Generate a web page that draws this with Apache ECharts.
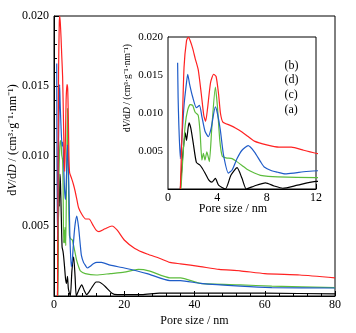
<!DOCTYPE html>
<html>
<head>
<meta charset="utf-8">
<script src="https://cdn.jsdelivr.net/npm/echarts@6/dist/echarts.min.js"></script>
<style>
html, body { margin: 0; background: #fff; }
#chart { width: 356px; height: 333px; }
</style>
</head>
<body>
<div id="chart"></div>
<script>
// pore size (nm) and dV/dD (cm3 g-1 nm-1)
const sizeB = [1.0, 1.15, 1.3, 1.5, 1.65, 1.8, 2.0, 2.2, 2.45, 2.7, 2.9, 3.05, 3.2, 3.45, 3.7, 3.9, 4.1, 4.25, 4.45, 5.0, 5.5, 6.0, 6.5, 7.0, 8.0, 9.0, 10.0, 11.0, 12.0, 12.8, 14.5, 16.5, 18, 20, 23, 26.5, 30, 33, 36, 41.7, 47, 53, 60, 70, 80];
const dvB = [0, 0.008, 0.016, 0.0195, 0.0200, 0.0195, 0.0185, 0.0172, 0.0157, 0.0125, 0.0097, 0.0089, 0.0105, 0.0140, 0.0151, 0.0148, 0.0125, 0.0100, 0.0088, 0.0084, 0.0080, 0.0075, 0.0069, 0.0063, 0.0058, 0.0055, 0.0055, 0.0051, 0.0047, 0.0046, 0.0048, 0.0050, 0.0047, 0.0040, 0.0034, 0.0030, 0.0027, 0.0024, 0.0023, 0.0021, 0.0019, 0.0018, 0.0016, 0.0015, 0.0013];

const sizeD = [0.78, 0.82, 0.88, 1.0, 1.1, 1.3, 1.5, 1.6, 1.75, 2.0, 2.3, 2.55, 2.75, 3.0, 3.27, 3.5, 3.84, 4.0, 4.24, 4.5, 4.9, 5.2, 5.6, 6.0, 6.5, 7.0, 7.5, 7.8, 8.4, 8.9, 9.5, 10.2, 11.2, 12.2, 13.5, 16, 20, 26.5, 33, 36, 41.7, 53, 62, 80];
const dvD = [0.0166, 0.0120, 0.0084, 0.0040, 0.0060, 0.0110, 0.0140, 0.0151, 0.0138, 0.0121, 0.0107, 0.0110, 0.0095, 0.0076, 0.0069, 0.0080, 0.0108, 0.0100, 0.0078, 0.0045, 0.0021, 0.0025, 0.0040, 0.0051, 0.0057, 0.0049, 0.0036, 0.0029, 0.0024, 0.0022, 0.0020, 0.0021, 0.0023, 0.0024, 0.0024, 0.0022, 0.0020, 0.0016, 0.0011, 0.0011, 0.0009, 0.0007, 0.0006, 0.00057];

const sizeC = [1.05, 1.2, 1.4, 1.6, 1.8, 2.0, 2.2, 2.45, 2.6, 2.75, 2.87, 3.0, 3.15, 3.35, 3.55, 3.84, 4.0, 4.2, 4.4, 4.7, 5.2, 5.5, 6.0, 6.4, 7.0, 7.5, 8.9, 12, 16, 20, 24, 27, 33, 36, 41.7, 53, 62, 80];
const dvC = [0, 0.004, 0.0085, 0.0104, 0.0111, 0.0110, 0.0101, 0.0097, 0.0075, 0.0038, 0.0047, 0.0038, 0.0049, 0.0036, 0.0080, 0.0134, 0.0110, 0.0064, 0.0043, 0.0041, 0.0040, 0.0037, 0.0031, 0.0026, 0.0021, 0.0018, 0.0016, 0.0015, 0.0016, 0.0017, 0.0019, 0.0018, 0.0013, 0.0013, 0.0009, 0.0008, 0.0007, 0.0006];

const sizeA = [1.0, 1.2, 1.4, 1.5, 1.7, 1.85, 2.05, 2.3, 2.55, 2.75, 3.0, 3.3, 3.55, 3.84, 4.1, 4.65, 5.1, 5.6, 6.0, 6.35, 7.0, 7.9, 8.6, 9.3, 10.5, 12, 12.8, 14.5, 16.5, 18, 20, 25, 30, 40, 60, 80];
const dvA = [0, 0.0045, 0.0074, 0.0064, 0.0087, 0.0080, 0.0060, 0.0035, 0.0032, 0.0028, 0.0021, 0.0012, 0.0009, 0.0014, 0.0005, 0.0, 0.0018, 0.0028, 0.0014, 0.0, 0.0004, 0.0008, 0.0004, 0.0001, 0.0005, 0.0010, 0.0010, 0.0007, 0.0002, 0.0001, 0.0001, 0.0001, 0.0002, 0.0002, 0.0002, 0.00015];

const curves = [
    { label: '(a)', x: sizeA, y: dvA, color: '#000000' },
    { label: '(c)', x: sizeC, y: dvC, color: '#5cbc3c' },
    { label: '(d)', x: sizeD, y: dvD, color: '#1f5cc8' },
    { label: '(b)', x: sizeB, y: dvB, color: '#ff2222' },
];
const legendOrder = ['(b)', '(d)', '(c)', '(a)'];

const mainXTicks = { min: 0, max: 80, interval: 20 };
const insetXTicks = { min: 0, max: 12, interval: 4 };
const yTicks = { min: 0, max: 0.02, interval: 0.005 };

const FONT = 'Liberation Serif';
const yName = 'd{i|V}/d{i|D} / (cm³·g⁻¹·nm⁻¹)';

const chart = echarts.init(document.getElementById('chart'), null, { renderer: 'canvas' });

function xAxis(grid, ticks, split, gap, pad) {
    return {
        type: 'value',
        gridIndex: grid,
        min: ticks.min, max: ticks.max, interval: ticks.interval,
        name: 'Pore size / nm',
        nameLocation: 'middle',
        nameGap: gap,
        nameMoveOverlap: false,
        nameTextStyle: { fontFamily: FONT, fontSize: 12, color: '#000', padding: pad },
        axisLine: { lineStyle: { color: '#000', width: 1 } },
        axisTick: { inside: true, length: 5, lineStyle: { color: '#000' } },
        minorTick: { show: true, splitNumber: split, length: 3, lineStyle: { color: '#000' } },
        axisLabel: { fontFamily: FONT, fontSize: 12, color: '#000', margin: 3 },
        splitLine: { show: false },
    };
}

function yAxis(grid, gap, pad, nameSize, labelSize) {
    return {
        type: 'value',
        gridIndex: grid,
        min: yTicks.min, max: yTicks.max, interval: yTicks.interval,
        name: yName,
        nameLocation: 'middle',
        nameGap: gap,
        nameRotate: 90,
        nameMoveOverlap: false,
        nameTextStyle: {
            fontFamily: FONT, fontSize: nameSize, color: '#000', padding: pad,
            rich: { i: { fontFamily: FONT, fontSize: nameSize, fontStyle: 'italic', color: '#000' } }
        },
        axisLine: { lineStyle: { color: '#000', width: 1 } },
        axisTick: { inside: true, length: 5, lineStyle: { color: '#000' } },
        minorTick: { show: true, splitNumber: 5, length: 3, lineStyle: { color: '#000' } },
        axisLabel: {
            fontFamily: FONT, fontSize: labelSize, color: '#000', margin: 5,
            showMinLabel: false,
            formatter: (v) => v.toFixed(3),
        },
        splitLine: { show: false },
    };
}

const series = [];
[0, 1].forEach((g) => {
    curves.forEach((c) => {
        series.push({
            name: c.label,
            type: 'line',
            xAxisIndex: g,
            yAxisIndex: g,
            data: c.x.map((x, i) => [x, c.y[i]]),
            showSymbol: false,
            smooth: 0.2,
            clip: true,
            lineStyle: { color: c.color, width: 1.2 },
            itemStyle: { color: c.color },
            z: 2 + g * 10,
        });
    });
});

// arrow in the inset, drawn in data coordinates on the last inset series
series[series.length - 1].markLine = {
    silent: true,
    animation: false,
    symbol: ['none', 'arrow'],
    symbolSize: [6, 8],
    label: { show: false },
    lineStyle: { color: '#000', type: 'solid', width: 1 },
    data: [[{ coord: [8.8, 0.0101] }, { coord: [8.8, 0.0170] }]],
};

const option = {
    animation: false,
    backgroundColor: '#fff',
    grid: [
        { left: 54, top: 16, width: 281, height: 280, outerBoundsMode: 'none', show: true, borderColor: '#000', borderWidth: 1, backgroundColor: 'transparent', z: 0 },
        { left: 168, top: 37, width: 148, height: 152, outerBoundsMode: 'none', show: true, borderColor: '#000', borderWidth: 1, backgroundColor: '#fff', z: 10 },
    ],
    xAxis: [xAxis(0, mainXTicks, 5, 19, 0), xAxis(1, insetXTicks, 4, 14, [0, 18, 0, 0])],
    yAxis: [yAxis(0, 35, [0, 0, 0, 32], 12, 12), yAxis(1, 36, [0, 0, 0, 50], 9.5, 11)],
    series: series,
};

chart.setOption(option);

// legend labels beside the arrow
const labelX = 9.45;
const labelY = [0.0162, 0.0143, 0.0124, 0.0104];
chart.setOption({
    graphic: legendOrder.map((t, i) => {
        const p = chart.convertToPixel({ gridIndex: 1 }, [labelX, labelY[i]]);
        return {
            type: 'text',
            x: p[0], y: p[1], z: 30,
            style: { text: t, fontFamily: FONT, fontSize: 12, fill: '#000', verticalAlign: 'middle', align: 'left' },
        };
    }),
});
</script>
</body>
</html>
